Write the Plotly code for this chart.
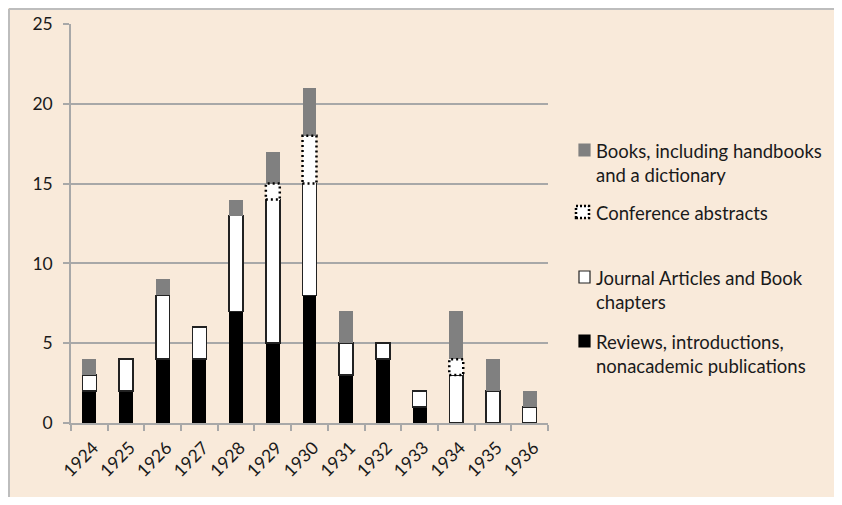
import plotly.graph_objects as go

years = ["1924", "1925", "1926", "1927", "1928", "1929", "1930",
         "1931", "1932", "1933", "1934", "1935", "1936"]
reviews = [2, 2, 4, 4, 7, 5, 8, 3, 4, 1, 0, 0, 0]
journal = [1, 2, 4, 2, 6, 9, 7, 2, 1, 1, 3, 2, 1]
conference = [0, 0, 0, 0, 0, 1, 3, 0, 0, 0, 1, 0, 0]
books = [1, 0, 1, 0, 1, 2, 3, 2, 0, 0, 3, 2, 1]

legend_labels = [
    "Books, including handbooks<br>and a dictionary",
    "Conference abstracts",
    "Journal Articles and Book<br>chapters",
    "Reviews, introductions,<br>nonacademic publications",
]

BG = "#F9EADA"
GRID = "#A8A8A8"
TXT = "#1a1a1a"
FONT = "Lato"
BW = 0.38

# the page body adds an 8px margin; size the figure so the page does not overflow
OFF = 8
FW, FH = 842 - 2 * OFF, 505 - 2 * OFF

fig = go.Figure()
fig.add_bar(x=years, y=reviews, width=BW, marker=dict(color="#000000", line=dict(width=0)), name="rev")
fig.add_bar(x=years, y=journal, width=BW, marker=dict(color="#FFFFFF", line=dict(color="#222222", width=1.5)), name="jour")
fig.add_bar(x=years, y=conference, width=BW, marker=dict(color="#FFFFFF", line=dict(width=0)), name="conf")
fig.add_bar(x=years, y=books, width=BW, marker=dict(color="#808080", line=dict(width=0)), name="books")

shapes = []
# plot area in page pixels
L, R, T, B = 71, 548, 24, 423
W, H = R - L, B - T
def px(x):
    return (x - L) / W
def py(y):
    return (B - y) / H

# background fill plus grey border on left/top only
shapes.append(dict(type="rect", xref="paper", yref="paper", layer="below",
                   x0=px(9), x1=px(900), y0=py(560), y1=py(OFF + 1),
                   fillcolor=BG, line=dict(width=0)))
shapes.append(dict(type="line", xref="paper", yref="paper", layer="below",
                   x0=px(9), x1=px(900), y0=py(OFF + 1), y1=py(OFF + 1),
                   line=dict(color="#BDBDBD", width=2)))
shapes.append(dict(type="line", xref="paper", yref="paper", layer="below",
                   x0=px(9), x1=px(9), y0=py(OFF + 1), y1=py(560),
                   line=dict(color="#BDBDBD", width=2)))

# dotted outlines for conference abstracts
for i, (r, j, c) in enumerate(zip(reviews, journal, conference)):
    if c > 0:
        base = r + j
        shapes.append(dict(type="rect", xref="x", yref="y", layer="above",
                           x0=i - BW / 2, x1=i + BW / 2, y0=base, y1=base + c,
                           line=dict(color="#000000", width=2.5, dash="2px,3px"),
                           fillcolor="rgba(0,0,0,0)"))

# manual legend
leg_y = [150, 212, 277, 341]
sym_fill = ["#808080", "#FFFFFF", "#FFFFFF", "#000000"]
sym_line = [None, "dot", "solid", None]
annotations = []
for k, (lab, yy) in enumerate(zip(legend_labels, leg_y)):
    if sym_line[k] == "dot":
        shapes.append(dict(type="rect", xref="paper", yref="paper",
                           x0=px(576), x1=px(589), y0=py(yy + 6), y1=py(yy - 6),
                           fillcolor="#FFFFFF",
                           line=dict(color="#000000", width=2.5, dash="2px,2px")))
    else:
        shapes.append(dict(type="rect", xref="paper", yref="paper",
                           x0=px(579), x1=px(590), y0=py(yy + 6), y1=py(yy - 6),
                           fillcolor=sym_fill[k],
                           line=dict(color="#222222" if sym_line[k] == "solid" else sym_fill[k], width=1.2)))
    annotations.append(dict(xref="paper", yref="paper", x=px(594), y=py(yy - 12),
                            xanchor="left", yanchor="top", align="left",
                            text=lab, showarrow=False,
                            font=dict(family=FONT, size=18.5, color=TXT)))

fig.update_layout(
    width=FW, height=FH,
    barmode="stack",
    showlegend=False,
    paper_bgcolor=BG,
    plot_bgcolor=BG,
    margin=dict(l=L - OFF, r=FW - (R - OFF), t=T - OFF, b=FH - (B - OFF), pad=0, autoexpand=False),
    font=dict(family=FONT, size=17, color=TXT),
    shapes=shapes,
    annotations=annotations,
    xaxis=dict(type="category", tickson="boundaries", ticks="outside", ticklen=6,
               tickcolor=GRID, tickwidth=1.5, showline=True, linecolor=GRID, linewidth=1.5,
               showgrid=False, tickangle=-45, range=[-0.5, 12.5], automargin=False,
               ticklabelstandoff=6, ticklabelshift=4,
               tickfont=dict(family=FONT, size=17.5, color=TXT)),
    yaxis=dict(range=[0, 25], dtick=5, ticks="outside", ticklen=6, tickcolor=GRID, tickwidth=1.5,
               showline=True, linecolor=GRID, linewidth=1.5, showgrid=True, gridcolor=GRID,
               gridwidth=1.5, zeroline=False, ticklabelstandoff=7, automargin=False,
               tickfont=dict(family=FONT, size=17.5, color=TXT)),
)

fig.write_html("out.html")
